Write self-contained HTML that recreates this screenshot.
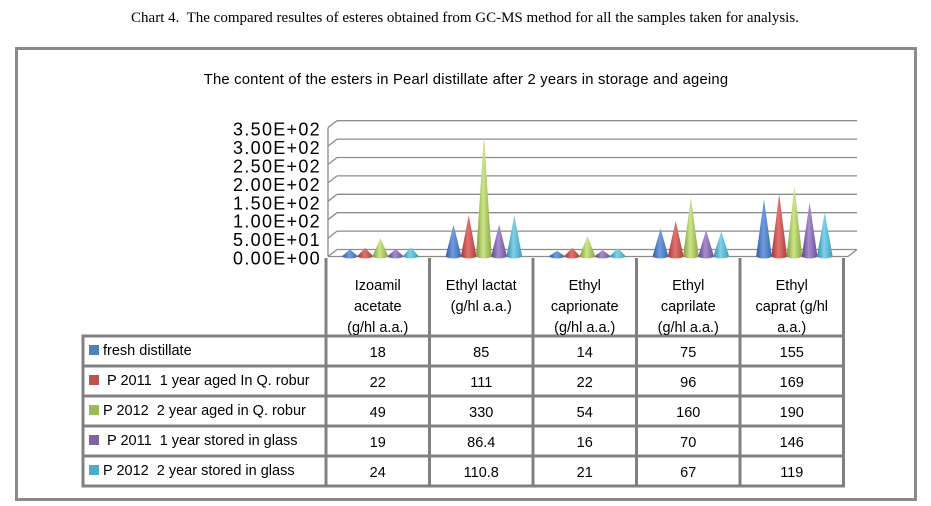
<!DOCTYPE html>
<html><head><meta charset="utf-8"><style>
html,body{margin:0;padding:0;background:#fff;width:931px;height:506px;overflow:hidden}
svg{display:block}
text{white-space:pre}
</style></head><body>
<svg id="s" width="931" height="506" xmlns="http://www.w3.org/2000/svg" font-family="Liberation Sans, sans-serif">
<defs>
<linearGradient id="g0" x1="0" x2="1"><stop offset="0" stop-color="#2e5f9e"/><stop offset=".45" stop-color="#6f9be0"/><stop offset="1" stop-color="#3a6bb0"/></linearGradient>
<linearGradient id="g1" x1="0" x2="1"><stop offset="0" stop-color="#a33533"/><stop offset=".45" stop-color="#e07270"/><stop offset="1" stop-color="#b03f3c"/></linearGradient>
<linearGradient id="g2" x1="0" x2="1"><stop offset="0" stop-color="#7a9a35"/><stop offset=".45" stop-color="#cde58a"/><stop offset="1" stop-color="#86a83e"/></linearGradient>
<linearGradient id="g3" x1="0" x2="1"><stop offset="0" stop-color="#5e4585"/><stop offset=".45" stop-color="#a88cd0"/><stop offset="1" stop-color="#6b5095"/></linearGradient>
<linearGradient id="g4" x1="0" x2="1"><stop offset="0" stop-color="#2f8ea8"/><stop offset=".45" stop-color="#7fd2e8"/><stop offset="1" stop-color="#3aa0bb"/></linearGradient>
</defs>
<text x="465" y="22" text-anchor="middle" font-family="Liberation Serif, serif" font-size="15">Chart 4.  The compared resultes of esteres obtained from GC-MS method for all the samples taken for analysis.</text>
<rect x="16.5" y="48.5" width="899" height="451" fill="#fff" stroke="#8a8a8a" stroke-width="3"/>
<text x="466" y="84" text-anchor="middle" font-size="14.8" letter-spacing="0.2">The content of the esters in Pearl distillate after 2 years in storage and ageing</text>
<g id="grid" stroke="#8c8c8c" stroke-width="1.3" fill="none"></g>
<g id="ylab" font-size="18" letter-spacing="1.3" text-anchor="end"></g>
<g id="cones"></g>
<g id="tbl"></g>
</svg>
<script>
const NS="http://www.w3.org/2000/svg";
function el(p,t,a,txt){const e=document.createElementNS(NS,t);for(const k in a)e.setAttribute(k,a[k]);if(txt!=null)e.textContent=txt;document.getElementById(p).appendChild(e);return e;}
const base=249.5, step=18.4, bx=337, ex=857;
const labs=["0.00E+00","5.00E+01","1.00E+02","1.50E+02","2.00E+02","2.50E+02","3.00E+02","3.50E+02"];
for(let i=0;i<=7;i++){const y=base-i*step;
 el('grid','line',{x1:bx,y1:y,x2:ex,y2:y});
 el('grid','line',{x1:bx,y1:y,x2:328,y2:y+7});
 el('ylab','text',{x:321,y:y+15},labs[i]);
}
el('grid','line',{x1:328,y1:base+7,x2:328,y2:base+7-7*step});
el('grid','line',{x1:328,y1:base+7,x2:848,y2:base+7});
el('grid','line',{x1:848,y1:base+7,x2:857,y2:base});
const data=[[18,22,49,19,24],[85,111,330,86.4,110.8],[14,22,54,16,21],[75,96,160,70,67],[155,169,190,146,119]];
const cols=[326,429.5,533,636.5,740,843.5];
const sc=0.367, by=256;
data.forEach((g,gi)=>{const c0=cols[gi]+24;g.forEach((v,si)=>{const cx=c0+si*15.2, h=v*sc, w=7.8;
 el('cones','path',{d:`M${cx-w},${by} L${cx},${by-h} L${cx+w},${by} A${w},2.5 0 0 1 ${cx-w},${by} Z`,fill:`url(#g${si})`});
});});
const rows=[258,336,366,396,426,456,486];
const T='tbl';
el(T,'g',{id:'tl',stroke:'#808080','stroke-width':'3',fill:'none'});
for(let i=0;i<6;i++) el('tl','line',{x1:cols[i],y1:258,x2:cols[i],y2:486});
el('tl','line',{x1:83,y1:336,x2:83,y2:486});
for(let r=1;r<7;r++) el('tl','line',{x1:81.5,y1:rows[r],x2:845,y2:rows[r]});
const hdr=[["Izoamil","acetate","(g/hl a.a.)"],["Ethyl lactat","(g/hl a.a.)"],["Ethyl","caprionate","(g/hl a.a.)"],["Ethyl","caprilate","(g/hl a.a.)"],["Ethyl","caprat (g/hl","a.a.)"]];
hdr.forEach((h,i)=>{const cx=(cols[i]+cols[i+1])/2;h.forEach((t,j)=>el(T,'text',{x:cx,y:290+j*21,'text-anchor':'middle','font-size':'14.5'},t));});
const names=["fresh distillate"," P 2011  1 year aged In Q. robur","P 2012  2 year aged in Q. robur"," P 2011  1 year stored in glass","P 2012  2 year stored in glass"];
const colors=["#4f81bd","#c0504d","#9bbb59","#8064a2","#4bacc6"];
names.forEach((n,r)=>{const y=rows[r+1];
 el(T,'rect',{x:89,y:y+9,width:10,height:10,fill:colors[r]});
 el(T,'text',{x:103,y:y+19,'font-size':'14.5'},n);
 data.forEach((g,gi)=>el(T,'text',{x:(cols[gi]+cols[gi+1])/2,y:y+21,'text-anchor':'middle','font-size':'14.5'},String(g[r])));
});
</script>
</body></html>
